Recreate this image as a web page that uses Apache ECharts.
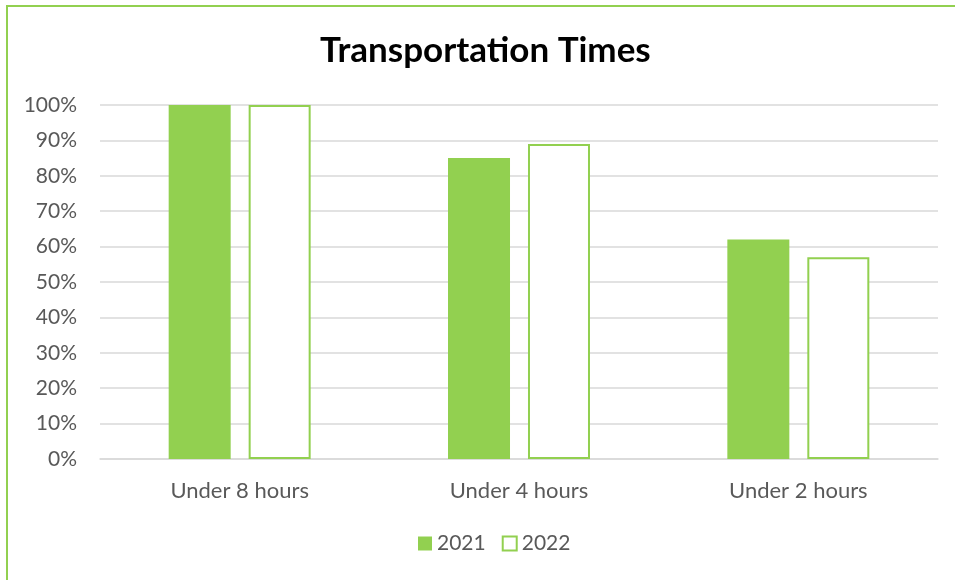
<!DOCTYPE html>
<html>
<head>
<meta charset="utf-8">
<title>Transportation Times</title>
<script src="https://cdn.jsdelivr.net/npm/echarts@6/dist/echarts.min.js"></script>
<style>
  html, body { margin: 0; padding: 0; background: #fff; }
  #chart { width: 955px; height: 580px; }
</style>
</head>
<body>
<div id="chart"></div>
<script>
// data
var categories = ["Under 8 hours", "Under 4 hours", "Under 2 hours"];
var seriesNames = ["2021", "2022"];
var values2021 = [100, 85, 62];
var values2022 = [100, 89, 57];

var green = "#92d050";
var textGrey = "#595959";
var font = "Lato";

var chart = echarts.init(document.getElementById("chart"));
chart.setOption({
  backgroundColor: "#fff",
  animation: false,
  title: {
    text: "Transportation Times",
    left: 320,
    top: 33,
    padding: 0,
    textStyle: { fontFamily: font, fontWeight: "bold", fontSize: 35, color: "#000" }
  },
  graphic: [{
    type: "rect",
    shape: { x: 7, y: 6, width: 1000, height: 700 },
    style: { fill: "none", stroke: green, lineWidth: 2 },
    silent: true
  }],
  legend: {
    data: seriesNames,
    left: 413,
    top: 528,
    icon: "rect",
    itemWidth: 14,
    itemHeight: 14,
    itemGap: 16,
    textStyle: { fontFamily: font, fontSize: 21, color: textGrey }
  },
  grid: { left: 100, right: 17, top: 105, bottom: 121 },
  xAxis: {
    type: "category",
    data: categories,
    axisTick: { show: false },
    axisLine: { lineStyle: { color: "#d9d9d9", width: 1.5 } },
    axisLabel: { margin: 21, fontFamily: font, fontSize: 22, color: textGrey }
  },
  yAxis: {
    type: "value",
    min: 0,
    max: 100,
    interval: 10,
    axisLine: { show: false },
    axisTick: { show: false },
    splitLine: { lineStyle: { color: "#d9d9d9", width: 1.5 } },
    axisLabel: { formatter: "{value}%", margin: 23, fontFamily: font, fontSize: 21, color: textGrey }
  },
  series: [
    {
      name: seriesNames[0],
      type: "bar",
      data: values2021,
      barWidth: 62,
      barGap: "29%",
      itemStyle: { color: green }
    },
    {
      name: seriesNames[1],
      type: "bar",
      data: values2022,
      barWidth: 62,
      barGap: "29%",
      itemStyle: { color: "#fff", borderColor: green, borderWidth: 2 }
    }
  ]
});
</script>
</body>
</html>
